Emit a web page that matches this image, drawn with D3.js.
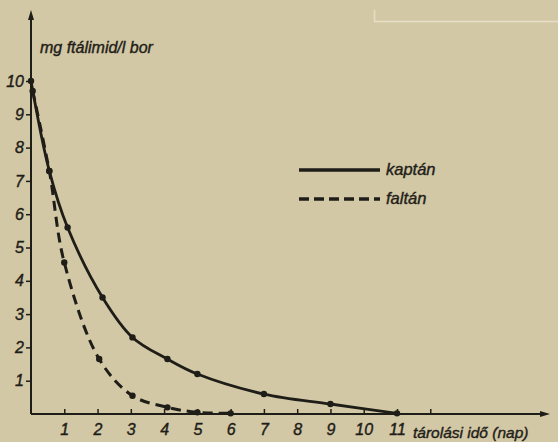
<!DOCTYPE html>
<html><head><meta charset="utf-8">
<script src="https://cdn.jsdelivr.net/npm/d3@7"></script>
<style>
html,body{margin:0;padding:0;background:#d2c8a5;}
svg{display:block;}
text{font-family:"Liberation Sans","DejaVu Sans",sans-serif;font-style:italic;fill:#1f1d18;}
</style></head>
<body>
<script>
const xTicks = [1,2,3,4,5,6,7,8,9,10,11,12];
const xTickLabels = ["1","2","3","4","5","6","7","8","9","10","11",""];
const yTicks = [1,2,3,4,5,6,7,8,9,10];
const kaptanX = [0, 0.55, 1.1, 2.15, 3.05, 4.1, 5.0, 7.0, 9.0, 11.0];
const kaptanY = [10.0, 7.3, 5.6, 3.5, 2.3, 1.65, 1.2, 0.6, 0.3, 0.02];
const faltanX = [0.05, 0.55, 1.0, 2.05, 3.05, 4.1, 5.0, 6.0];
const faltanY = [9.7, 7.3, 4.55, 1.65, 0.55, 0.2, 0.05, 0.02];
const seriesNames = ["kaptán", "faltán"];
const yTitle = "mg ftálimid/l bor";
const xTitle = "tárolási idő (nap)";

const W = 558, H = 442, ink = "#1f1d18";
const svg = d3.select("body").append("svg").attr("width", W).attr("height", H);
svg.append("rect").attr("width", W).attr("height", H).attr("fill", "#d2c8a5");
svg.append("path").attr("d", "M374.5,10 V21.5 H558").attr("fill","none").attr("stroke","#e6dec6").attr("stroke-width",1.5);

const x = d3.scaleLinear().domain([0, 11]).range([31, 397]);
const y = d3.scaleLinear().domain([0, 10]).range([414, 81]);

svg.append("line").attr("x1", x(0)).attr("x2", x(0)).attr("y1", 414).attr("y2", 14).attr("stroke", ink).attr("stroke-width", 2);
svg.append("path").attr("d", `M${x(0)},10 l-3,10 h6 z`).attr("fill", ink);
svg.append("line").attr("x1", x(0)).attr("x2", 545).attr("y1", y(0)).attr("y2", y(0)).attr("stroke", ink).attr("stroke-width", 2);
svg.append("path").attr("d", `M550,${y(0)} l-10,-3 v6 z`).attr("fill", ink);

const tf = '"Liberation Sans",sans-serif';
const ya = d3.axisLeft(y).tickValues(yTicks).tickSize(5).tickPadding(2).tickFormat(d3.format("d"));
const gy = svg.append("g").attr("transform", `translate(${x(0)},0)`).call(ya);
gy.select(".domain").remove();
gy.selectAll("line").attr("stroke", ink).attr("stroke-width", 1.5);
gy.selectAll("text").attr("font-size", 16).style("font-family", tf).style("font-style","italic").attr("fill", ink).attr("stroke", ink).attr("stroke-width", 0.4);

const xa = d3.axisBottom(x).tickValues(xTicks).tickSize(-5).tickPadding(10).tickFormat((d,i) => xTickLabels[i]);
const gx = svg.append("g").attr("transform", `translate(0,${y(0)})`).call(xa);
gx.select(".domain").remove();
gx.selectAll("line").attr("stroke", ink).attr("stroke-width", 1.5);
gx.selectAll("text").attr("font-size", 16).style("font-family", tf).style("font-style","italic").attr("fill", ink).attr("stroke", ink).attr("stroke-width", 0.4);

svg.append("text").attr("x", 40).attr("y", 53).attr("font-size", 16).attr("stroke", ink).attr("stroke-width", 0.4).text(yTitle);
svg.append("text").attr("x", 413).attr("y", 438).attr("font-size", 15.5).attr("stroke", ink).attr("stroke-width", 0.4).text(xTitle);

const line = d3.line().x(d => x(d[0])).y(d => y(d[1])).curve(d3.curveCatmullRom.alpha(0.5));
const kData = kaptanX.map((v,i) => [v, kaptanY[i]]);
const fData = faltanX.map((v,i) => [v, faltanY[i]]);
svg.append("path").datum(fData).attr("d", line).attr("fill","none").attr("stroke", ink).attr("stroke-width", 3).attr("stroke-dasharray", "10,6");
svg.append("path").datum(kData).attr("d", line).attr("fill","none").attr("stroke", ink).attr("stroke-width", 2.8);
svg.selectAll("circle.k").data(kData).enter().append("circle").attr("cx", d => x(d[0])).attr("cy", d => y(d[1])).attr("r", 3.2).attr("fill", ink);
svg.selectAll("circle.f").data(fData).enter().append("circle").attr("cx", d => x(d[0])).attr("cy", d => y(d[1])).attr("r", 3.2).attr("fill", ink);

svg.append("line").attr("x1", 299).attr("x2", 380).attr("y1", 170).attr("y2", 170).attr("stroke", ink).attr("stroke-width", 3.5);
svg.append("text").attr("x", 386).attr("y", 175).attr("font-size", 16.5).attr("stroke", ink).attr("stroke-width", 0.4).text(seriesNames[0]);
svg.append("line").attr("x1", 299).attr("x2", 380).attr("y1", 199).attr("y2", 199).attr("stroke", ink).attr("stroke-width", 3.5).attr("stroke-dasharray", "10,5");
svg.append("text").attr("x", 386).attr("y", 204).attr("font-size", 16.5).attr("stroke", ink).attr("stroke-width", 0.4).text(seriesNames[1]);
</script>
</body></html>
